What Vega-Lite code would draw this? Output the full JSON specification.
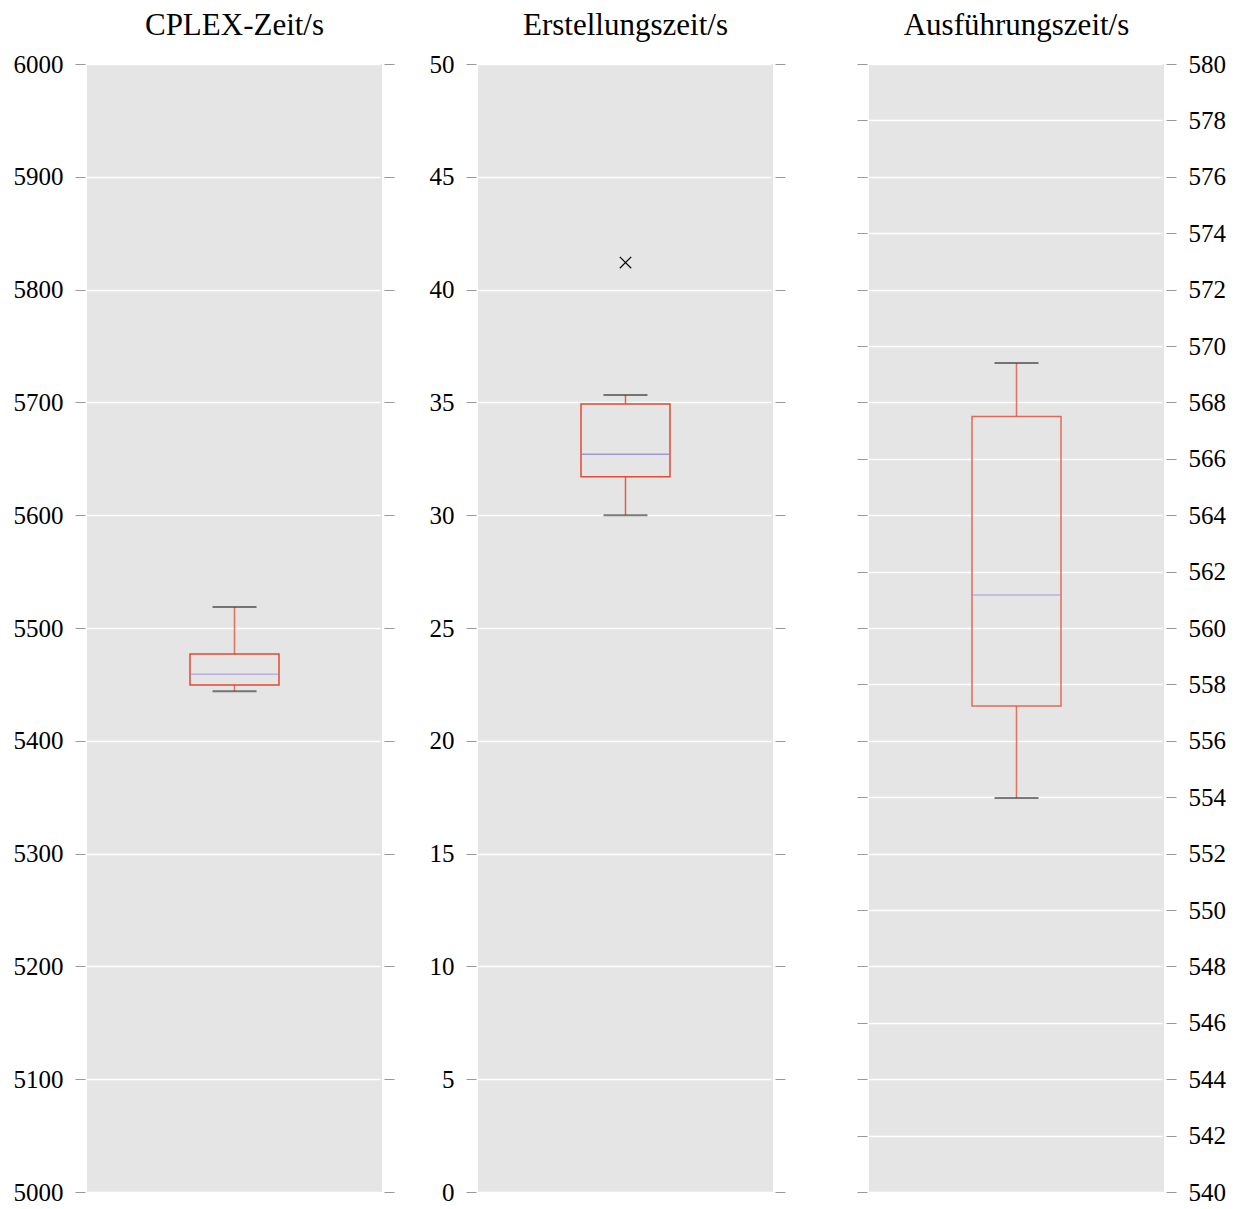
{
  "$schema": "https://vega.github.io/schema/vega-lite/v6.json",
  "padding": {"left": 13, "top": 10, "right": 10, "bottom": 4},
  "background": "#ffffff",
  "datasets": {
    "stats": [
      {"metric": "CPLEX-Zeit/s", "lower": 5444, "q1": 5449.5, "median": 5459, "q3": 5477, "upper": 5518.6},
      {"metric": "Erstellungszeit/s", "lower": 30.0, "q1": 31.7, "median": 32.7, "q3": 34.93, "upper": 35.33},
      {"metric": "Ausführungszeit/s", "lower": 553.97, "q1": 557.23, "median": 561.17, "q3": 567.5, "upper": 569.4}
    ],
    "outliers": [
      {"metric": "Erstellungszeit/s", "value": 41.2}
    ]
  },
  "spacing": 96,
  "bounds": "flush",
  "hconcat": [
    {
      "width": 295,
      "height": 1128,
      "title": "CPLEX-Zeit/s",
      "data": {"name": "stats"},
      "transform": [{"filter": "datum.metric === 'CPLEX-Zeit/s'"}],
      "encoding": {"x": {"field": "metric", "type": "nominal", "axis": null}},
      "layer": [
        {
          "mark": {"type": "rule", "color": "#E24A33", "strokeWidth": 1.5, "opacity": 0.75},
          "encoding": {
            "y": {"field": "lower", "type": "quantitative", "scale": {"domain": [5000, 6000], "nice": false, "zero": false},
                  "axis": {"orient": "left", "tickCount": 10, "format": "d", "grid": true, "title": null, "labelFont": "Liberation Serif"}},
            "y2": {"field": "q1"}
          }
        },
        {
          "mark": {"type": "rule", "color": "#E24A33", "strokeWidth": 1.5, "opacity": 0.75},
          "encoding": {"y": {"field": "q3", "type": "quantitative", "axis": null}, "y2": {"field": "upper"}}
        },
        {
          "mark": {"type": "bar", "width": 89, "fill": "transparent", "stroke": "#E24A33", "strokeWidth": 1.5},
          "encoding": {"y": {"field": "q1", "type": "quantitative", "axis": null}, "y2": {"field": "q3"}}
        },
        {
          "mark": {"type": "tick", "size": 88, "thickness": 1.5, "color": "#988ED5", "opacity": 0.6},
          "encoding": {"y": {"field": "median", "type": "quantitative", "axis": null}}
        },
        {
          "mark": {"type": "tick", "size": 44, "thickness": 2, "color": "#444444"},
          "encoding": {"y": {"field": "lower", "type": "quantitative", "axis": null}}
        },
        {
          "mark": {"type": "tick", "size": 44, "thickness": 2, "color": "#444444"},
          "encoding": {"y": {"field": "upper", "type": "quantitative",
                  "axis": {"orient": "right", "tickCount": 10, "grid": false, "labels": false, "title": null}}}
        }
      ],
      "resolve": {"axis": {"y": "independent"}}
    },
    {
      "width": 295,
      "height": 1128,
      "title": "Erstellungszeit/s",
      "encoding": {"x": {"field": "metric", "type": "nominal", "axis": null, "scale": {"domain": ["Erstellungszeit/s"]}}},
      "layer": [
        {
          "data": {"name": "stats"},
          "transform": [{"filter": "datum.metric === 'Erstellungszeit/s'"}],
          "layer": [
            {
              "mark": {"type": "rule", "color": "#E24A33", "strokeWidth": 1.5, "opacity": 0.85},
              "encoding": {
                "y": {"field": "lower", "type": "quantitative", "scale": {"domain": [0, 50], "nice": false, "zero": false},
                      "axis": {"orient": "left", "tickCount": 10, "format": "d", "grid": true, "title": null, "labelFont": "Liberation Serif"}},
                "y2": {"field": "q1"}
              }
            },
            {
              "mark": {"type": "rule", "color": "#E24A33", "strokeWidth": 1.5, "opacity": 0.85},
              "encoding": {"y": {"field": "q3", "type": "quantitative", "axis": null}, "y2": {"field": "upper"}}
            },
            {
              "mark": {"type": "bar", "width": 89, "fill": "transparent", "stroke": "#E24A33", "strokeWidth": 1.5},
              "encoding": {"y": {"field": "q1", "type": "quantitative", "axis": null}, "y2": {"field": "q3"}}
            },
            {
              "mark": {"type": "tick", "size": 88, "thickness": 1.5, "color": "#988ED5", "opacity": 0.9},
              "encoding": {"y": {"field": "median", "type": "quantitative", "axis": null}}
            },
            {
              "mark": {"type": "tick", "size": 44, "thickness": 2, "color": "#444444"},
              "encoding": {"y": {"field": "lower", "type": "quantitative", "axis": null}}
            },
            {
              "mark": {"type": "tick", "size": 44, "thickness": 2, "color": "#444444"},
              "encoding": {"y": {"field": "upper", "type": "quantitative",
                      "axis": {"orient": "right", "tickCount": 10, "grid": false, "labels": false, "title": null}}}
            }
          ],
          "resolve": {"axis": {"y": "independent"}}
        },
        {
          "data": {"name": "outliers"},
          "mark": {"type": "point", "shape": "M-1,-1L1,1M-1,1L1,-1", "size": 130, "stroke": "#000000", "strokeWidth": 1.2, "filled": false, "opacity": 1},
          "encoding": {"y": {"field": "value", "type": "quantitative", "axis": null}}
        }
      ],
      "resolve": {"axis": {"y": "independent"}}
    },
    {
      "width": 295,
      "height": 1128,
      "title": "Ausführungszeit/s",
      "data": {"name": "stats"},
      "transform": [{"filter": "datum.metric === 'Ausführungszeit/s'"}],
      "encoding": {"x": {"field": "metric", "type": "nominal", "axis": null}},
      "layer": [
        {
          "mark": {"type": "rule", "color": "#E24A33", "strokeWidth": 1.5, "opacity": 0.75},
          "encoding": {
            "y": {"field": "lower", "type": "quantitative", "scale": {"domain": [540, 580], "nice": false, "zero": false},
                  "axis": {"orient": "left", "tickCount": 20, "grid": true, "labels": false, "title": null}},
            "y2": {"field": "q1"}
          }
        },
        {
          "mark": {"type": "rule", "color": "#E24A33", "strokeWidth": 1.5, "opacity": 0.75},
          "encoding": {"y": {"field": "q3", "type": "quantitative", "axis": null}, "y2": {"field": "upper"}}
        },
        {
          "mark": {"type": "bar", "width": 89, "fill": "transparent", "stroke": "#E24A33", "strokeWidth": 1.5, "strokeOpacity": 0.8},
          "encoding": {"y": {"field": "q1", "type": "quantitative", "axis": null}, "y2": {"field": "q3"}}
        },
        {
          "mark": {"type": "tick", "size": 88, "thickness": 1.5, "color": "#988ED5", "opacity": 0.6},
          "encoding": {"y": {"field": "median", "type": "quantitative", "axis": null}}
        },
        {
          "mark": {"type": "tick", "size": 44, "thickness": 2, "color": "#444444"},
          "encoding": {"y": {"field": "lower", "type": "quantitative", "axis": null}}
        },
        {
          "mark": {"type": "tick", "size": 44, "thickness": 2, "color": "#444444"},
          "encoding": {"y": {"field": "upper", "type": "quantitative",
                  "axis": {"orient": "right", "tickCount": 20, "format": "d", "grid": false, "labels": true, "title": null, "labelFont": "Liberation Serif"}}}
        }
      ],
      "resolve": {"axis": {"y": "independent"}}
    }
  ],
  "config": {
    "view": {"fill": "#E5E5E5", "stroke": null},
    "font": "Liberation Serif",
    "title": {"font": "Liberation Serif", "fontSize": 31, "fontWeight": "normal", "color": "#000000", "offset": 10, "anchor": "middle"},
    "axis": {
      "domain": false,
      "tickColor": "#999999",
      "tickSize": 10,
      "tickWidth": 1,
      "offset": 2,
      "labelFont": "Liberation Serif",
      "labelFontSize": 25,
      "labelColor": "#000000",
      "labelPadding": 12,
      "gridColor": "#ffffff",
      "gridWidth": 1.5,
      "gridOpacity": 1
    }
  }
}
